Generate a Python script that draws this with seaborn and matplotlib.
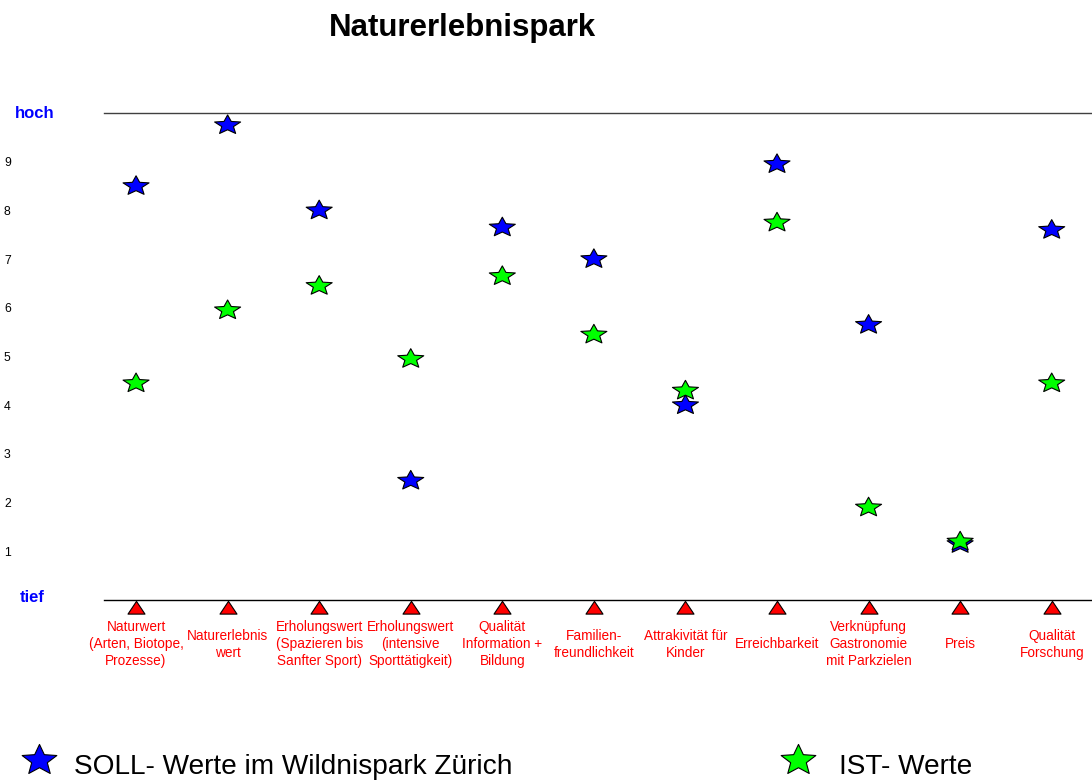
import numpy as np
import pandas as pd
import matplotlib
matplotlib.use("Agg")
import matplotlib.pyplot as plt
import matplotlib.transforms as mtransforms
from matplotlib.path import Path
from matplotlib.lines import Line2D
import seaborn as sns

# ---------------- data ----------------
categories = [
    "Naturwert\n(Arten, Biotope,\nProzesse)",
    "Naturerlebnis\nwert",
    "Erholungswert\n(Spazieren bis\nSanfter Sport)",
    "Erholungswert\n(intensive\nSporttätigkeit)",
    "Qualität\nInformation +\nBildung",
    "Familien-\nfreundlichkeit",
    "Attrakivität für\nKinder",
    "Erreichbarkeit",
    "Verknüpfung\nGastronomie\nmit Parkzielen",
    "Preis",
    "Qualität\nForschung",
]
soll_values = [8.5, 9.75, 8.0, 2.45, 7.65, 7.0, 4.0, 8.95, 5.65, 1.15, 7.6]
ist_values = [4.45, 5.95, 6.45, 4.95, 6.65, 5.45, 4.3, 7.75, 1.9, 1.2, 4.45]
y_ticks = [1, 2, 3, 4, 5, 6, 7, 8, 9]
y_tick_labels = ["1", "2", "3", "4", "5", "6", "7", "8", "9"]
top_label = "hoch"
bottom_label = "tief"
title = "Naturerlebnispark"
soll_name = "SOLL- Werte im Wildnispark Zürich"
ist_name = "IST- Werte"

# ---------------- styling ----------------
sns.set_theme(style="white")
plt.rcParams["font.family"] = ["Liberation Sans", "DejaVu Sans"]

W, H = 1092, 780
fig = plt.figure(figsize=(W / 100, H / 100), dpi=100)
ax = fig.add_axes([104 / W, 1 - 600 / H, (W - 104) / W, (600 - 113) / H])


def make_star(flat):
    st = Path.unit_regular_star(5, 0.45)
    v = st.vertices.copy()
    v[:, 1] *= flat
    return Path(v, st.codes)


star_path = make_star(0.75)
legend_star = make_star(0.88)

# triangle that sits just below its anchor point
tri_path = Path([(-1, -1.6), (1, -1.6), (0, -0.1), (-1, -1.6)],
                [Path.MOVETO, Path.LINETO, Path.LINETO, Path.CLOSEPOLY])

n = len(categories)
pos = np.arange(n)
df = pd.DataFrame({
    "pos": np.concatenate([pos, pos]),
    "value": soll_values + ist_values,
    "series": [soll_name] * n + [ist_name] * n,
})
palette = {soll_name: "#0000FF", ist_name: "#00FF00"}

sns.scatterplot(data=df, x="pos", y="value", hue="series", palette=palette,
                marker=star_path, s=18.7 ** 2, edgecolor="black",
                linewidth=0.8, legend=False, ax=ax, zorder=3, clip_on=False)

base = pd.DataFrame({"pos": pos, "value": np.zeros(n)})
sns.scatterplot(data=base, x="pos", y="value", color="#FF0000",
                marker=tri_path, s=19.6 ** 2, edgecolor="black",
                linewidth=0.8, legend=False, ax=ax, zorder=3, clip_on=False)

ax.set_xlim(-0.35, 10.44)
ax.set_ylim(0, 10)
ax.set_xlabel("")
ax.set_ylabel("")

for side in ["left", "right"]:
    ax.spines[side].set_visible(False)
ax.spines["top"].set_color("#404040")
ax.spines["top"].set_linewidth(1.0)
ax.spines["bottom"].set_color("black")
ax.spines["bottom"].set_linewidth(1.0)

ax.set_xticks(pos)
ax.set_xticklabels(categories, color="#FF0000", fontsize=9.8,
                   linespacing=1.27)
ax.tick_params(axis="x", length=0, pad=32)
for lab in ax.get_xticklabels():
    lab.set_verticalalignment("center")
    lab.set_multialignment("center")

ax.set_yticks(y_ticks)
ax.set_yticklabels(y_tick_labels, fontsize=8.8, color="black")
ax.tick_params(axis="y", length=0, pad=72)
for lab in ax.get_yticklabels():
    lab.set_horizontalalignment("left")

blend = mtransforms.blended_transform_factory(fig.transFigure, ax.transData)
ax.text(35 / W, 10, top_label, transform=blend, ha="center", va="center",
        color="#0000FF", fontsize=12, fontweight="bold")
ax.text(32 / W, 0.05, bottom_label, transform=blend, ha="center", va="center",
        color="#0000FF", fontsize=12, fontweight="bold")

fig.text(462 / W, 1 - 36 / H, title, ha="center", va="baseline",
         fontsize=22.5, fontweight="bold", color="black")

# legend drawn at the bottom of the figure
for xc, name, xt in [(39, soll_name, 74), (798, ist_name, 839)]:
    fig.add_artist(Line2D([xc / W], [1 - 760 / H], marker=legend_star,
                          markersize=25, markerfacecolor=palette[name],
                          markeredgecolor="black", markeredgewidth=0.8,
                          linestyle="none", transform=fig.transFigure))
    fig.text(xt / W, 1 - 774 / H, name, ha="left", va="baseline",
             fontsize=20.2, color="black")

fig.savefig("out.png", dpi=100)
